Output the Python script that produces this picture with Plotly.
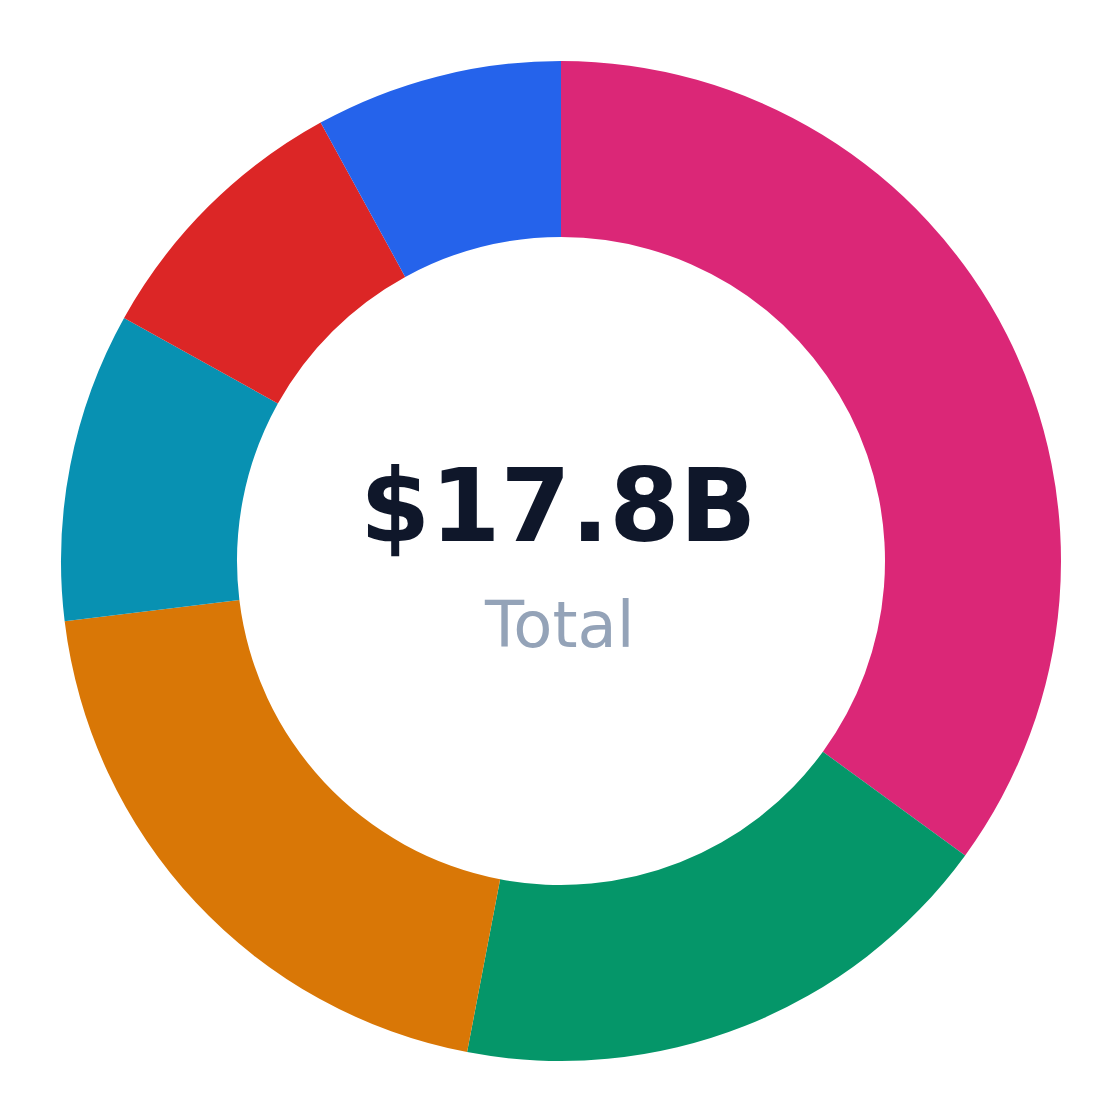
import plotly.graph_objects as go

# slice data, clockwise from 12 o'clock
labels = ["Pink", "Green", "Orange", "Teal", "Red", "Blue"]
values = [6.23, 3.20, 3.57, 1.78, 1.59, 1.42]
colors = ["#DB2777", "#059669", "#D97706", "#0891B2", "#DC2626", "#2563EB"]

centerValue = "$17.8B"
centerLabel = "Total"

fig = go.Figure(data=[go.Pie(
    labels=labels,
    values=values,
    hole=0.648,
    sort=False,
    direction="clockwise",
    rotation=0,
    textinfo="none",
    marker=dict(colors=colors, line=dict(width=0)),
    showlegend=False
)])

fig.add_annotation(text="<b>" + centerValue + "</b>", x=0.497, y=0.555, xref="paper", yref="paper",
                   showarrow=False, font=dict(family="DejaVu Sans", size=101, color="#0F172A"))
fig.add_annotation(text=centerLabel, x=0.498, y=0.436, xref="paper", yref="paper",
                   showarrow=False, font=dict(family="DejaVu Sans", size=64, color="#94A3B8"))

# offsets compensate for the page's body margin
fig.update_layout(
    width=1120, height=1120,
    margin=dict(l=53, r=67, t=53, b=67),
    paper_bgcolor="white",
    plot_bgcolor="white"
)

fig.write_html("out.html")
